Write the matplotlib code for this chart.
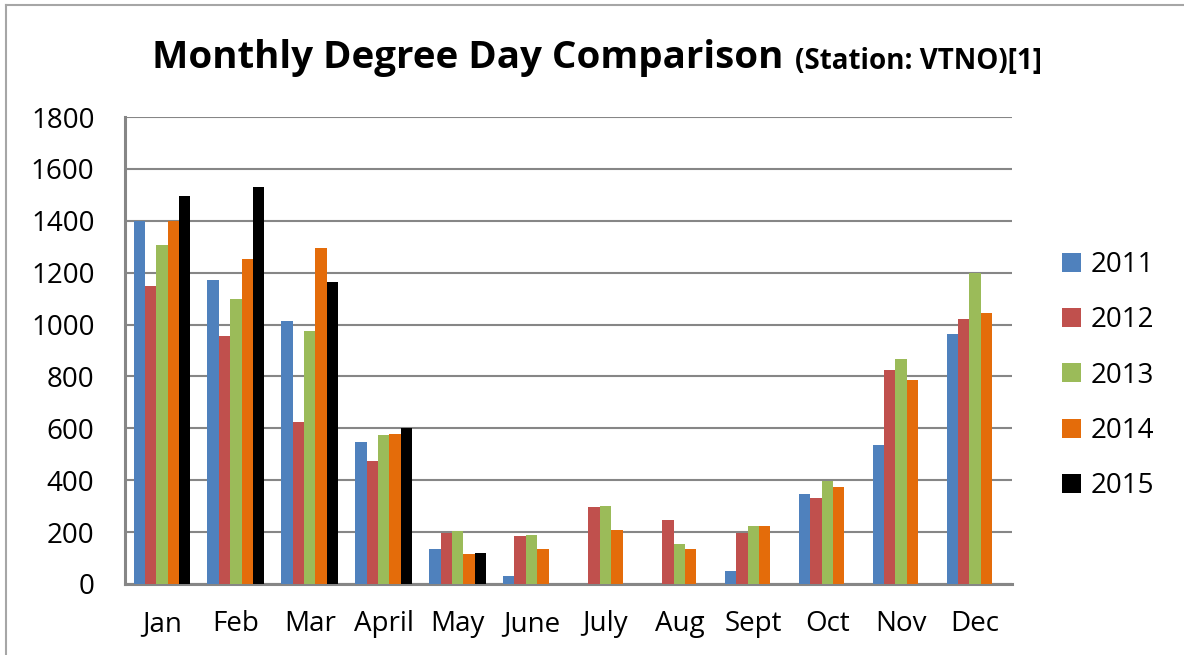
import numpy as np
import matplotlib
matplotlib.use("Agg")
import matplotlib.pyplot as plt
from matplotlib.lines import Line2D

# --- data (degree days per month) ---
MONTHS = ["Jan", "Feb", "Mar", "April", "May", "June",
          "July", "Aug", "Sept", "Oct", "Nov", "Dec"]
YEARS = ["2011", "2012", "2013", "2014", "2015"]
nan = np.nan
DD_2011 = [1400, 1173, 1012, 549, 134, 32, nan, nan, 50, 345, 535, 965]
DD_2012 = [1150, 955, 623, 474, 195, 186, 296, 247, 196, 331, 826, 1022]
DD_2013 = [1306, 1100, 975, 574, 206, 187, 302, 155, 224, 397, 867, 1200]
DD_2014 = [1400, 1252, 1294, 578, 116, 133, 210, 133, 222, 372, 786, 1045]
DD_2015 = [1496, 1530, 1164, 600, 119, nan, nan, nan, nan, nan, nan, nan]
SERIES = [DD_2011, DD_2012, DD_2013, DD_2014, DD_2015]
COLORS = ["#4F81BD", "#C0504D", "#9BBB59", "#E46C0A", "#000000"]
Y_TICKS = [0, 200, 400, 600, 800, 1000, 1200, 1400, 1600, 1800]

FONT = "Open Sans"
W, H = 1184, 655

fig = plt.figure(figsize=(W / 100, H / 100), dpi=100)
ax = fig.add_axes([125 / W, 1 - 584 / H, (1012 - 125) / W, (584 - 117) / H])

x = np.arange(len(MONTHS))
bar_w = 0.154
for i, (vals, color, year) in enumerate(zip(SERIES, COLORS, YEARS)):
    ax.bar(x + (i - 2) * bar_w, vals, width=bar_w, color=color,
           edgecolor="none", label=year, zorder=3)

ax.set_xlim(-0.5, len(MONTHS) - 0.5)
ax.set_ylim(0, 1800)
ax.set_yticks(Y_TICKS)
ax.set_xticks(x)
ax.set_xticklabels(MONTHS)
ax.grid(axis="y", color="#868686", lw=1.5, zorder=0)
ax.tick_params(length=0, labelsize=20, colors="black")
ax.tick_params(axis="y", pad=22)
ax.tick_params(axis="x", pad=19)
for lab in ax.get_xticklabels() + ax.get_yticklabels():
    lab.set_fontfamily(FONT)
for side in ("top", "right"):
    ax.spines[side].set_visible(False)
for side in ("left", "bottom"):
    ax.spines[side].set_color("#868686")
    ax.spines[side].set_linewidth(2.2)

leg = fig.legend(loc="upper left", bbox_to_anchor=(1051 / W, 1 - 240 / H),
                 frameon=False, prop={"family": FONT, "size": 20},
                 handlelength=0.68, handleheight=0.68, handletextpad=0.35,
                 labelspacing=0.98, borderaxespad=0)

# title: bold main part plus smaller bold station note
t1 = fig.text(152 / W, 1 - 58 / H, "Monthly Degree Day Comparison",
              fontfamily=FONT, fontweight="bold", fontsize=27.7, va="center", ha="left")
fig.canvas.draw()
bb = t1.get_window_extent()
fig.text((bb.x1 + 12) / W, 1 - 61 / H, "(Station: VTNO)[1]",
         fontfamily=FONT, fontweight="bold", fontsize=20, va="center", ha="left")

# chart frame (only top and left edges visible in the crop)
fig.add_artist(Line2D([6 / W, 1], [1 - 5 / H, 1 - 5 / H], color="#A6A6A6", lw=1.5))
fig.add_artist(Line2D([6 / W, 6 / W], [0, 1 - 5 / H], color="#A6A6A6", lw=1.5))

fig.savefig("out.png", dpi=100)
